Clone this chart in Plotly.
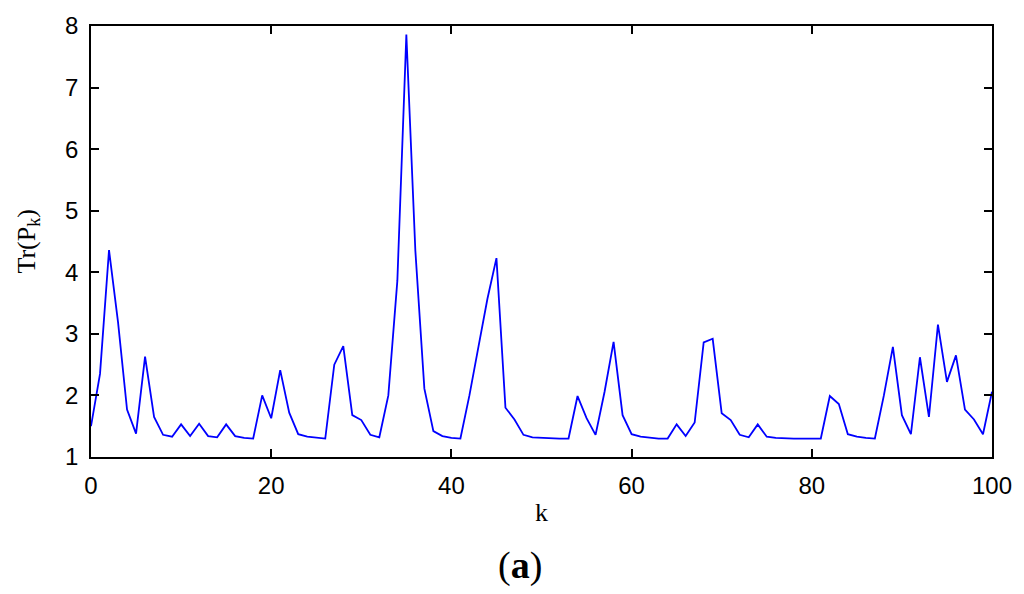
import plotly.graph_objects as go

k = list(range(101))
trace_p = [
    1.50, 2.35, 4.36, 3.19, 1.77, 1.38, 2.63, 1.65, 1.36, 1.33,
    1.53, 1.34, 1.54, 1.34, 1.32, 1.53, 1.34, 1.31, 1.30, 2.00,
    1.63, 2.41, 1.72, 1.37, 1.33, 1.31, 1.30, 2.50, 2.80, 1.68,
    1.60, 1.36, 1.32, 2.00, 3.86, 7.86, 4.35, 2.11, 1.42, 1.34,
    1.31, 1.30, 2.00, 2.79, 3.57, 4.23, 1.80, 1.61, 1.36, 1.32,
    1.31, 1.30, 1.30, 1.30, 1.99, 1.63, 1.36, 2.06, 2.87, 1.68,
    1.37, 1.33, 1.31, 1.30, 1.30, 1.53, 1.34, 1.56, 2.86, 2.92,
    1.71, 1.60, 1.36, 1.32, 1.53, 1.33, 1.31, 1.30, 1.30, 1.30,
    1.30, 1.30, 1.99, 1.86, 1.37, 1.33, 1.31, 1.30, 2.00, 2.79,
    1.68, 1.37, 2.62, 1.65, 3.15, 2.22, 2.65, 1.77, 1.61, 1.37,
    2.06,
]
x_ticks = [0, 20, 40, 60, 80, 100]
y_ticks = [1, 2, 3, 4, 5, 6, 7, 8]

serif = "Liberation Serif, Times New Roman, serif"

fig = go.Figure()
fig.add_trace(go.Scatter(
    x=k, y=trace_p, mode="lines",
    line=dict(color="#0000FF", width=1.8),
    showlegend=False,
))

axis_common = dict(
    showgrid=False, zeroline=False,
    showline=True, linecolor="black", linewidth=1.5, mirror="ticks",
    ticks="inside", ticklen=8, tickwidth=1.5, tickcolor="black",
    tickfont=dict(family="Liberation Sans, Arial", size=24, color="black"),
)

fig.update_layout(
    width=1024, height=594,
    margin=dict(l=91, r=30, t=24, b=137),
    paper_bgcolor="white", plot_bgcolor="white",
    xaxis=dict(range=[0, 100], tickvals=x_ticks, ticklabelstandoff=6, **axis_common),
    yaxis=dict(range=[1, 8], tickvals=y_ticks, ticklabelstandoff=6, **axis_common),
    annotations=[
        dict(text="k", x=0.5, y=-0.129, xref="paper", yref="paper",
             xanchor="center", yanchor="middle", showarrow=False,
             font=dict(family=serif, size=26, color="black")),
        dict(text="Tr(P<sub>k</sub>)", x=-0.071, y=0.5, xref="paper", yref="paper",
             xanchor="center", yanchor="middle", showarrow=False, textangle=-90,
             font=dict(family=serif, size=26, color="black")),
        dict(text="(<b>a</b>)", x=0.476, y=-0.252, xref="paper", yref="paper",
             xanchor="center", yanchor="middle", showarrow=False,
             font=dict(family=serif, size=38, color="black")),
    ],
)

# drop the default body margin so the figure fills the window exactly
fig.write_html("out.html", config={"displayModeBar": False},
               post_script="document.body.style.margin='0';")
